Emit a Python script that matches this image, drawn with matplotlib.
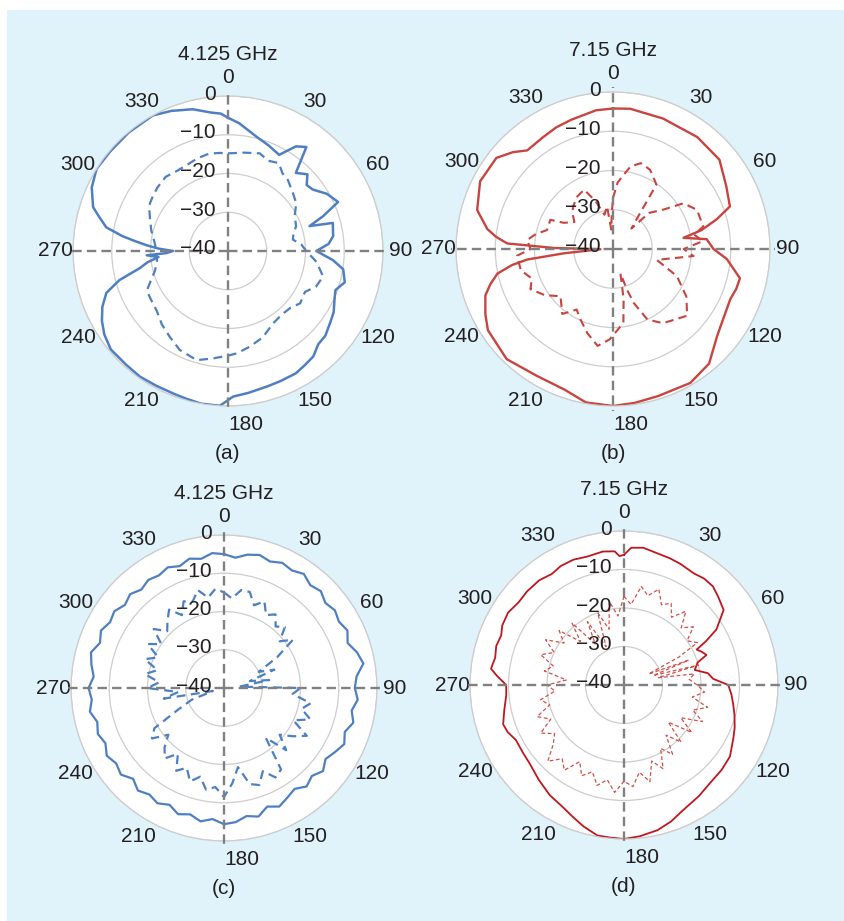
import numpy as np
import matplotlib
matplotlib.use('Agg')
import matplotlib.pyplot as plt
from matplotlib.patches import Rectangle
from matplotlib.transforms import offset_copy

plt.rcParams['font.family'] = ['Liberation Sans', 'DejaVu Sans']

W, H = 845, 921

# ============================================
# DATA  (angle in degrees, level in dB)
# ============================================

# (a) 4.125 GHz
a_solid_deg = [0, 5, 14, 21, 28, 33, 37, 41, 46, 50, 54, 60, 66, 70, 73, 75, 82, 86, 90,
               95, 99, 105, 110, 115, 120, 125, 131, 136, 141, 146, 151, 158, 164, 172,
               178, 183, 190, 196, 201, 208, 215, 222, 230, 236, 241, 246, 251, 255, 259,
               262, 265, 267, 268, 270, 272, 274, 276, 278, 281, 285, 288, 295, 302, 310,
               320, 331, 338, 346, 353, 357, 360]
a_solid_db = [-5.6, -6.9, -9.6, -10.8, -11.9, -7.8, -6.4, -13.3, -11.5, -13.5, -13.0, -10.5,
              -8.9, -14.0, -18.0, -12.0, -12.6, -14.0, -17.2, -12.8, -9.9, -8.8, -10.5, -9.7,
              -8.5, -7.8, -6.7, -6.5, -5.0, -4.5, -3.9, -3.8, -3.6, -3.0, -2.4, 0.0, 0.0,
              -0.4, -0.6, -0.6, -0.4, -0.6, -0.5, -1.5, -2.8, -4.5, -6.8, -11.0, -16.8,
              -19.0, -22.0, -19.0, -24.0, -25.8, -22.0, -19.0, -16.0, -12.5, -8.0, -5.5,
              -3.4, -1.2, 0.0, -0.2, -0.1, 0.0, -1.0, -2.3, -4.0, -4.5, -5.6]
a_dash_deg = [0, 9, 18, 24, 30, 35, 40, 48, 55, 62, 70, 75, 80, 85, 90, 97, 105, 112, 118,
              126, 132, 140, 148, 158, 167, 175, 180, 188, 196, 206, 214, 222, 230, 238,
              244, 250, 255, 262, 270, 276, 285, 294, 300, 306, 312, 320, 328, 336, 342,
              349, 355, 360]
a_dash_db = [-14.8, -14.3, -13.5, -14.5, -13.8, -15.5, -16.0, -17.5, -18.5, -20.5, -21.3,
             -22.5, -23.0, -21.0, -19.8, -17.0, -14.6, -15.5, -17.5, -17.0, -18.2, -18.5,
             -18.0, -16.0, -14.7, -13.5, -13.0, -12.0, -10.7, -11.6, -13.2, -14.5, -16.0,
             -16.5, -16.7, -19.0, -20.5, -21.5, -21.5, -21.0, -19.5, -17.9, -16.5, -16.0,
             -15.5, -15.0, -15.5, -15.3, -14.8, -14.4, -14.6, -14.8]

# (b) 7.15 GHz
b_solid_deg = [0, 7, 21, 37, 50, 61, 70, 74, 78, 81, 84, 90, 95, 103, 108, 113, 122, 130,
               140, 150, 163, 172, 180, 190, 199, 211, 224, 237, 243, 250, 254, 258, 261,
               263, 265, 269, 271, 273, 276, 279, 286, 297, 308, 314, 319, 328, 335, 342,
               353, 360]
b_solid_db = [-4.2, -4.0, -4.4, -4.3, -4.6, -7.0, -8.3, -12.5, -17.0, -21.8, -16.0, -14.4,
              -10.9, -6.8, -7.0, -7.5, -6.8, -5.4, -1.9, -0.6, -0.8, -0.4, 0.0, -0.3, -2.1,
              -2.3, -1.0, -2.0, -3.5, -5.4, -7.5, -9.9, -14.0, -18.0, -27.5, -36.8, -25.0,
              -13.0, -10.0, -7.6, -4.0, -2.0, -2.3, -4.5, -6.7, -6.4, -5.8, -5.4, -4.4, -4.2]
b_dash_deg = [0, 4, 8, 12, 18, 25, 34, 37, 42, 45, 52, 57, 65, 76, 80, 85, 90, 95, 104, 113,
              123, 132, 146, 154, 159, 161, 163, 168, 172, 182, 189, 197, 204, 211, 218,
              228, 236, 244, 250, 257, 266, 270, 276, 281, 286, 295, 298, 305, 312, 318,
              326, 334, 340, 346, 352, 355, 358, 360]
b_dash_db = [-27.0, -23.0, -21.0, -18.5, -17.0, -17.7, -20.2, -28.5, -33.0, -27.0, -23.7,
             -18.6, -16.4, -16.3, -19.0, -17.0, -22.0, -19.4, -28.5, -22.3, -17.7, -14.6,
             -17.2, -20.0, -25.3, -29.0, -33.5, -27.0, -21.0, -17.0, -15.0, -17.6, -20.0,
             -22.0, -19.0, -22.0, -19.0, -16.6, -18.0, -15.9, -15.5, -19.0, -18.0, -20.0,
             -22.5, -22.4, -25.8, -28.0, -26.0, -25.0, -23.8, -23.2, -27.0, -31.0, -29.0,
             -35.0, -31.0, -27.0]

# (c) 4.125 GHz, 5 degree steps
c_deg = np.arange(0, 365, 5)
c_solid_db = [-5.0, -5.8, -4.6, -4.0, -4.8, -3.9, -4.5, -3.6, -4.9, -4.2, -5.4, -4.6, -5.3,
              -4.4, -5.6, -4.0, -3.0, -5.2, -5.8, -4.9, -6.1, -5.0, -6.4, -5.3, -6.5, -7.6,
              -6.2, -7.5, -6.4, -7.8, -6.9, -5.8, -7.0, -5.2, -6.0, -4.8, -4.4, -5.6, -4.6,
              -5.8, -4.9, -6.3, -5.2, -6.0, -5.0, -6.4, -4.8, -5.6, -4.6, -5.8, -4.9, -5.7,
              -4.4, -5.3, -4.6, -5.8, -4.8, -4.0, -5.5, -4.5, -5.6, -5.0, -6.2, -5.3, -6.4,
              -5.5, -6.0, -5.2, -6.1, -5.0, -5.7, -4.6, -5.0]
c_dash_db = [-15.0, -16.5, -14.0, -14.0, -17.0, -15.0, -18.0, -16.5, -19.0, -17.5, -21.0,
             -18.0, -24.0, -30.0, -26.0, -33.0, -28.0, -36.0, -20.0, -22.0, -17.0, -19.0,
             -16.0, -20.0, -15.0, -18.0, -21.0, -17.0, -23.0, -14.0, -13.0, -16.0, -13.0,
             -14.0, -19.0, -15.0, -11.5, -14.0, -13.0, -16.0, -14.0, -17.0, -15.0, -19.0,
             -16.0, -18.0, -21.0, -17.0, -19.0, -27.0, -31.0, -37.0, -24.0, -28.0, -20.0,
             -23.0, -19.0, -22.0, -18.0, -21.0, -17.0, -20.0, -16.0, -19.0, -17.0, -15.0,
             -18.0, -15.0, -16.0, -13.5, -16.0, -14.0, -15.0]

# (d) 7.15 GHz
d_solid_deg = [0, 3, 8, 14, 20, 25, 32, 37, 42, 47, 53, 56, 59, 62, 64, 67, 70, 73, 78, 82,
               86, 90, 95, 100, 105, 111, 116, 124, 131, 139, 146, 155, 161, 167, 174, 180,
               185, 190, 196, 201, 207, 214, 222, 230, 236, 243, 248, 252, 258, 265, 270,
               274, 277, 282, 287, 292, 296, 302, 308, 314, 321, 327, 332, 338, 344, 351,
               356, 358, 360]
d_solid_db = [-6.2, -4.3, -4.0, -4.7, -5.0, -5.3, -5.8, -5.4, -5.5, -6.5, -7.6, -10.0, -12.0,
              -16.0, -19.0, -18.0, -17.2, -20.0, -21.2, -18.0, -16.8, -12.9, -12.0, -11.2,
              -10.3, -9.2, -8.4, -6.8, -6.4, -6.1, -5.2, -4.0, -2.5, -1.3, -0.5, 0.0, -0.2,
              -0.3, -1.8, -3.2, -4.6, -5.5, -6.9, -8.1, -8.4, -8.5, -7.4, -7.0, -8.2, -9.3,
              -9.4, -7.0, -5.2, -5.8, -5.3, -5.6, -4.8, -4.5, -5.2, -5.0, -5.0, -5.6, -5.0,
              -4.9, -5.3, -4.9, -5.2, -6.5, -6.2]
d_dash_deg = [0, 5, 10, 15, 20, 25, 30, 35, 40, 45, 50, 55, 60, 63, 66, 69, 72, 75, 78, 81,
              85, 90, 95, 100, 105, 110, 115, 120, 125, 130, 135, 140, 145, 150, 155, 160,
              165, 170, 175, 180, 185, 190, 195, 200, 205, 210, 215, 220, 225, 230, 235,
              240, 245, 250, 255, 260, 265, 270, 275, 280, 285, 290, 295, 300, 305, 310,
              315, 320, 325, 330, 335, 340, 345, 350, 355, 360]
d_dash_db = [-17.0, -19.0, -14.0, -16.0, -13.5, -17.0, -15.5, -18.5, -15.0, -19.0, -16.5,
             -20.0, -18.0, -24.0, -33.0, -22.0, -32.0, -20.0, -31.0, -21.5, -23.0, -21.0,
             -19.0, -22.0, -17.5, -21.0, -17.5, -23.0, -18.5, -25.0, -19.0, -23.0, -18.0,
             -21.0, -16.0, -19.0, -14.0, -17.0, -13.5, -15.0, -12.0, -15.0, -13.0, -16.0,
             -14.0, -17.0, -13.0, -15.0, -12.0, -16.0, -18.0, -15.0, -19.0, -16.0, -20.0,
             -18.0, -22.0, -20.0, -25.0, -19.0, -21.0, -17.0, -20.0, -16.5, -21.0, -18.0,
             -24.0, -19.0, -27.0, -21.0, -29.0, -20.0, -25.0, -18.0, -22.0, -17.0]

angle_ticks = list(range(0, 360, 30))
ring_levels = [-40, -30, -20, -10, 0]

BLUE = '#4f7fc3'
RED = '#c9443e'
DARK_RED = '#c0161e'
LIGHT_RED = '#d2504b'
TEXT = '#231f20'

fig = plt.figure(figsize=(W / 100, H / 100), dpi=100)
fig.add_artist(Rectangle((7 / W, 0), 1 - 7 / W, 1 - 10 / H, transform=fig.transFigure,
                         facecolor='#e0f2fa', edgecolor='none', zorder=0))


def draw_panel(cx, cy, R, title, caption, curves):
    ax = fig.add_axes([(cx - R) / W, 1 - (cy + R) / H, 2 * R / W, 2 * R / H],
                      projection='polar')
    ax.set_facecolor('white')
    ax.set_theta_zero_location('N')
    ax.set_theta_direction(-1)
    ax.set_thetagrids(angle_ticks, [str(a) for a in angle_ticks], fontsize=15, color=TEXT)
    ax.set_rlim(-40, 0)
    ax.set_rticks(ring_levels)
    ax.set_yticklabels([])
    ax.xaxis.grid(False)
    ax.yaxis.grid(True, color='#cdcdcd', lw=0.9)
    ax.spines['polar'].set_color('#cdcdcd')
    ax.spines['polar'].set_linewidth(0.9)
    ax.tick_params(axis='x', pad=6, length=0)
    for lbl in ax.get_xticklabels():
        if lbl.get_text() == '180':
            lbl.set_ha('left')

    for deg, db, color, lw, ls in curves:
        ax.plot(np.deg2rad(deg), db, color=color, lw=lw, ls=ls, zorder=2)

    # dashed cross through the centre
    for t in (0, 90, 180, 270):
        ax.plot([np.deg2rad(t)] * 2, [-40, 1.2], color='#808080', lw=1.7,
                ls=(0, (4, 2.2)), zorder=3, clip_on=False)

    # radial level labels along the 0 degree line
    tr = offset_copy(ax.transData, fig=fig, x=-12, y=2, units='dots')
    for v in ring_levels:
        ax.text(0, v, str(v).replace('-', '\u2212'), transform=tr, ha='right',
                va='center', fontsize=15, color=TEXT, zorder=4)

    fig.text(cx / W, 1 - (cy - R - 42) / H, title, ha='center', va='center',
             fontsize=15, color=TEXT)
    fig.text(cx / W, 1 - (cy + R + 47) / H, caption, ha='center', va='center',
             fontsize=15, color=TEXT)
    return ax


draw_panel(228, 251, 155, '4.125 GHz', '(a)', [
    (a_solid_deg, a_solid_db, BLUE, 1.8, '-'),
    (a_dash_deg, a_dash_db, BLUE, 1.6, (0, (4, 2.5))),
])
draw_panel(613, 249, 157, '7.15 GHz', '(b)', [
    (b_solid_deg, b_solid_db, RED, 1.7, '-'),
    (b_dash_deg, b_dash_db, RED, 1.5, (0, (4, 2.5))),
])
draw_panel(224, 688, 153, '4.125 GHz', '(c)', [
    (c_deg, c_solid_db, BLUE, 1.6, '-'),
    (c_deg, c_dash_db, BLUE, 1.6, (0, (4, 2.5))),
])
draw_panel(624, 685, 154, '7.15 GHz', '(d)', [
    (d_solid_deg, d_solid_db, DARK_RED, 1.3, '-'),
    (d_dash_deg, d_dash_db, LIGHT_RED, 0.9, (0, (3, 2))),
])

fig.savefig('out.png', dpi=100)
